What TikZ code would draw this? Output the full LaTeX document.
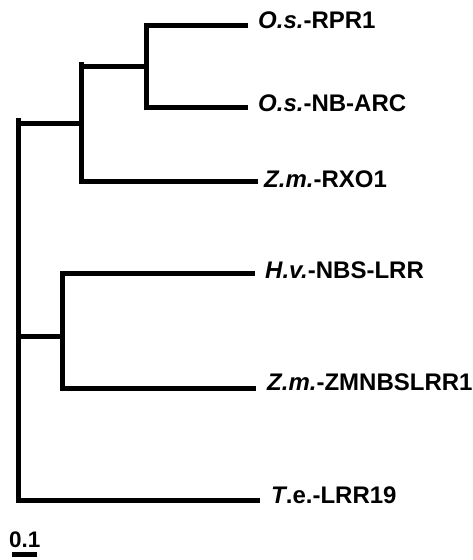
\documentclass[tikz,border=0pt]{standalone}
\usepackage{fontspec}
\setmainfont{Liberation Sans}
\begin{document}
\begin{tikzpicture}[x=1pt,y=-1pt,
  br/.style={line width=5pt, line join=miter, line cap=butt},
  leaf/.style={anchor=base west, inner sep=0pt, font=\fontsize{24}{28}\selectfont\bfseries},
  scalelbl/.style={anchor=base west, inner sep=0pt, font=\fontsize{22.5}{26}\selectfont\bfseries}]
\useasboundingbox (0,0) rectangle (473,560);
% internal nodes
\coordinate (rt) at (18.5,118);
\coordinate (r) at (18.5,123);
\coordinate (rb) at (18.5,500);
\coordinate (r3) at (18.5,336);
\coordinate (n2t) at (81,62);
\coordinate (n2) at (81,123);
\coordinate (n2b) at (81,181);
\coordinate (n2m) at (81,66);
\coordinate (n1) at (146,66);
\coordinate (n1t) at (146,25);
\coordinate (n1b) at (146,107);
\coordinate (n3) at (62,336);
\coordinate (n3t) at (62,273);
\coordinate (n3b) at (62,388);
% leaf ends
\coordinate (l1) at (248,25);
\coordinate (l2) at (248,107);
\coordinate (l3) at (258,181);
\coordinate (l4) at (255,273);
\coordinate (l5) at (256,388);
\coordinate (l6) at (260,500);
% branches
\draw[br] (rt) -- (rb) -- (l6);
\draw[br] (r) -- (n2);
\draw[br] (n2t) -- (n2b) -- (l3);
\draw[br] (n2m) -- (n1);
\draw[br] (l1) -- (n1t) -- (n1b) -- (l2);
\draw[br] (r3) -- (n3);
\draw[br] (l4) -- (n3t) -- (n3b) -- (l5);
% labels
\node[leaf] (t1) at (258,28) {\textit{O.s.}-RPR1};
\node[leaf] (t2) at (258,111) {\textit{O.s.}-NB-ARC};
\node[leaf] (t3) at (264,187) {\textit{Z.m.}-RXO1};
\node[leaf] (t4) at (265,278) {\textit{H.v.}-NBS-LRR};
\node[leaf] (t5) at (267,390) {\textit{Z.m.}-ZMNBSLRR1};
\node[leaf] (t6) at (271,503) {\textit{T}.e.-LRR19};
% scale bar
\node[scalelbl] (sc) at (9,547) {0.1};
\coordinate (sb1) at (12,554.5);
\coordinate (sb2) at (37,554.5);
\draw[br] (sb1) -- (sb2);
\end{tikzpicture}
\end{document}
